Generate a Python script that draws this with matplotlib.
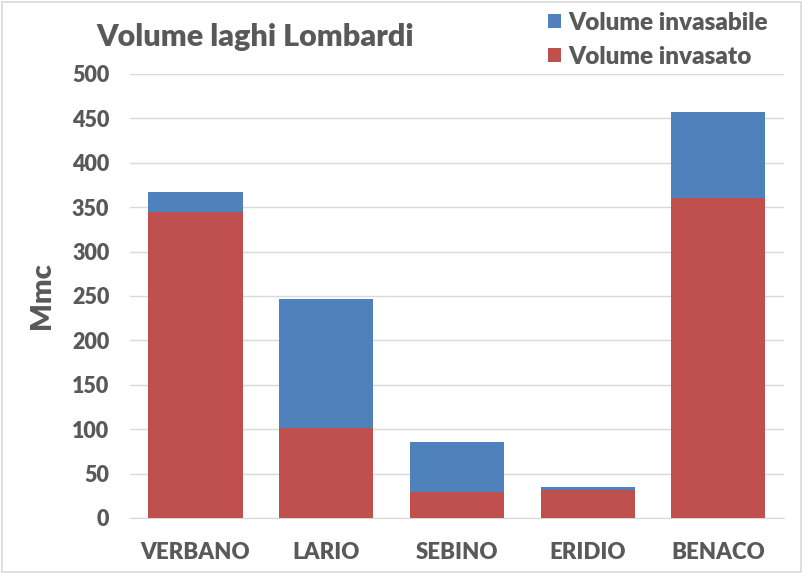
import matplotlib.pyplot as plt
from matplotlib.patches import Rectangle
import numpy as np

# valori (Mmc)
laghi = ['VERBANO', 'LARIO', 'SEBINO', 'ERIDIO', 'BENACO']
invasato = [345, 101, 29, 32, 360]
invasabile = [22, 146, 56, 3, 97]   # parte superiore della colonna
yticks = [0, 50, 100, 150, 200, 250, 300, 350, 400, 450, 500]

plt.rcParams['font.family'] = ['Lato', 'DejaVu Sans']
plt.rcParams['font.weight'] = 'bold'

fig = plt.figure(figsize=(8.03, 5.73), dpi=100)
ax = fig.add_axes([0.162, 0.096, 0.814, 0.775])

x = np.arange(len(laghi))
red = '#C0504D'
blue = '#4F81BD'
ax.bar(x, invasato, width=0.72, color=red, label='Volume invasato', zorder=3)
ax.bar(x, invasabile, width=0.72, bottom=invasato, color=blue,
       label='Volume invasabile', zorder=3)

ax.set_ylim(0, 500)
ax.set_xlim(-0.5, len(laghi) - 0.5)
ax.set_yticks(yticks)
ax.set_yticklabels([str(v) for v in yticks], fontsize=15.5, fontweight=800,
                   color='#595959')
ax.set_xticks(x)
ax.set_xticklabels(laghi, fontsize=16, fontweight=800, color='#595959')
ax.tick_params(axis='both', length=0)
ax.tick_params(axis='x', pad=17)
ax.tick_params(axis='y', pad=15)
ax.yaxis.grid(True, color='#D9D9D9', linewidth=1, zorder=0)
for s in ['top', 'right', 'left']:
    ax.spines[s].set_visible(False)
ax.spines['bottom'].set_color('#D9D9D9')

ax.set_ylabel('Mmc', fontsize=21, fontweight=800, color='#595959', labelpad=12)

fig.text(0.12, 0.935, 'Volume laghi Lombardi', fontsize=22, fontweight=800,
         color='#595959', va='center')

handles, labels = ax.get_legend_handles_labels()
leg = fig.legend(handles[::-1], labels[::-1], loc='upper left',
                 bbox_to_anchor=(0.655, 1.018), frameon=False,
                 prop={'size': 17.5, 'weight': 800},
                 handlelength=0.55, handleheight=0.55, handletextpad=0.3,
                 labelspacing=0.5)
for t in leg.get_texts():
    t.set_color('#595959')

# cornice del grafico
fig.patches.append(Rectangle((0.002, 0.002), 0.995, 0.995, transform=fig.transFigure,
                             fill=False, edgecolor='#D9D9D9', linewidth=1.2))

fig.savefig('out.png', dpi=100)
